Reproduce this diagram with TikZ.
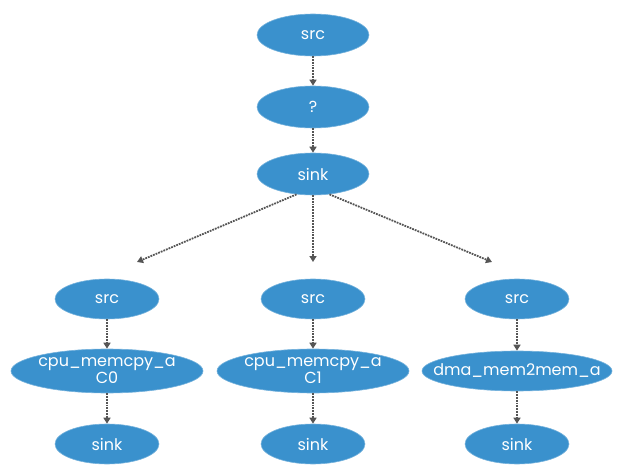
\documentclass[tikz,border=0pt]{standalone}
\usepackage{fontspec}
\setmainfont{Poppins}
\usetikzlibrary{shapes.geometric,arrows.meta}

\definecolor{nodeblue}{RGB}{58,145,205}
\definecolor{linkgray}{RGB}{85,85,85}

\tikzset{
  % the outline size comes only from the minimum sizes below
  blob/.style={ellipse, fill=nodeblue, draw=nodeblue!70!white, line width=0.6pt,
               text=white, inner sep=-40pt, align=center,
               font=\fontsize{16}{17}\selectfont},
  topblob/.style={blob, minimum width=112pt, minimum height=42pt},
  smallblob/.style={blob, minimum width=104pt, minimum height=40pt},
  wideblob/.style={blob, minimum width=192pt, minimum height=44pt},
  flow/.style={draw=linkgray, line width=1.8pt, densely dotted,
               -{Triangle[width=7pt,length=6pt,fill=linkgray]}}
}

\begin{document}
\begin{tikzpicture}[x=1pt, y=-1pt]
  \useasboundingbox (0,0) rectangle (619,468);

  % upper chain
  \node[topblob] (srcT)  at (313,35)  {src};
  \node[topblob] (qT)    at (313,107) {?};
  \node[topblob] (sinkT) at (313,174) {sink};

  \draw[flow] (srcT) -- (qT);
  \draw[flow] (qT) -- (sinkT);

  % ends of the fan-out arrows
  \coordinate (endL) at (137,262);
  \coordinate (endM) at (313,262);
  \coordinate (endR) at (492,262);

  \draw[flow] (sinkT.231) -- (endL);
  \draw[flow] (sinkT.south) -- (endM);
  \draw[flow] (sinkT.309) -- (endR);

  % left chain
  \node[smallblob] (srcL)  at (107,299) {src};
  \node[wideblob]  (cpuL)  at (107,371) {cpu\_memcpy\_a\\C0};
  \node[smallblob] (sinkL) at (107,444) {sink};

  % middle chain
  \node[smallblob] (srcM)  at (313,299) {src};
  \node[wideblob]  (cpuM)  at (313,371) {cpu\_memcpy\_a\\C1};
  \node[smallblob] (sinkM) at (313,444) {sink};

  % right chain
  \node[smallblob] (srcR)  at (517,299) {src};
  \node[blob, minimum width=190pt, minimum height=40pt] (dmaR) at (517,371) {dma\_mem2mem\_a};
  \node[smallblob] (sinkR) at (517,444) {sink};

  \foreach \a/\b in {srcL/cpuL, cpuL/sinkL, srcM/cpuM, cpuM/sinkM, srcR/dmaR, dmaR/sinkR}
    \draw[flow] (\a) -- (\b);
\end{tikzpicture}
\end{document}
